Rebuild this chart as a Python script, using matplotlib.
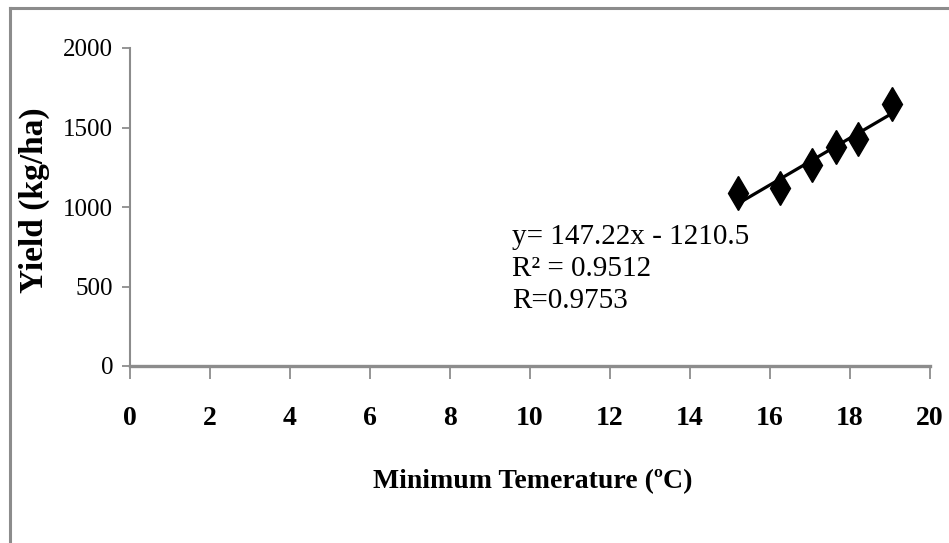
import matplotlib.pyplot as plt
import matplotlib.lines as mlines
import numpy as np

plt.rcParams.update({
    "font.family": "serif",
    "font.serif": ["Liberation Serif", "DejaVu Serif"],
})

# Data
min_temp = [15.2, 16.25, 17.05, 17.65, 18.2, 19.05]
yield_kg = [1085, 1120, 1265, 1380, 1430, 1645]

x_ticks = [0, 2, 4, 6, 8, 10, 12, 14, 16, 18, 20]
y_ticks = [0, 500, 1000, 1500, 2000]

eq_text = "y= 147.22x - 1210.5\nR² = 0.9512\nR=0.9753"

GREY = "#8c8c8c"

fig = plt.figure(figsize=(9.49, 5.43), dpi=100)
ax = fig.add_axes([130 / 949, 1 - 366 / 543, 800 / 949, 318 / 543])

# scatter + linear trendline
ax.plot(min_temp, yield_kg, linestyle="none", marker="d", markersize=17,
        color="black", zorder=3)
coef = np.polyfit(min_temp, yield_kg, 1)
xs = np.array([min(min_temp), max(min_temp)])
ax.plot(xs, np.polyval(coef, xs), color="black", linewidth=2.3, zorder=2)

ax.text(9.55, 895, eq_text, ha="left", va="top", fontsize=21,
        linespacing=1.3)

ax.set_xlim(0, 20)
ax.set_ylim(0, 2000)
ax.set_xticks(x_ticks)
ax.set_yticks(y_ticks)
ax.set_xticklabels([str(t) for t in x_ticks], fontsize=20, fontweight="bold")
ax.set_yticklabels([str(t) for t in y_ticks], fontsize=18)

ax.spines[["top", "right"]].set_visible(False)
ax.spines["bottom"].set_color(GREY)
ax.spines["bottom"].set_linewidth(2.4)
ax.spines["left"].set_color(GREY)
ax.spines["left"].set_linewidth(1.5)
ax.tick_params(axis="x", direction="out", length=9, width=1.3, color=GREY, pad=20)
ax.tick_params(axis="y", direction="out", length=6, width=1.3, color=GREY, pad=6)

ax.set_xlabel("Minimum Temerature (ºC)", fontsize=20, fontweight="bold")
ax.xaxis.set_label_coords(0.504, -0.325)
ax.set_ylabel("Yield (kg/ha)", fontsize=24, fontweight="bold")
ax.yaxis.set_label_coords(-0.1, 0.52)

# chart-area border (left and top edges visible)
fig.add_artist(mlines.Line2D([10 / 949, 10 / 949], [0, 1 - 8 / 543],
                             color=GREY, linewidth=2.2, transform=fig.transFigure))
fig.add_artist(mlines.Line2D([10 / 949, 1], [1 - 8 / 543, 1 - 8 / 543],
                             color=GREY, linewidth=2.2, transform=fig.transFigure))

fig.savefig("out.png", dpi=100)
